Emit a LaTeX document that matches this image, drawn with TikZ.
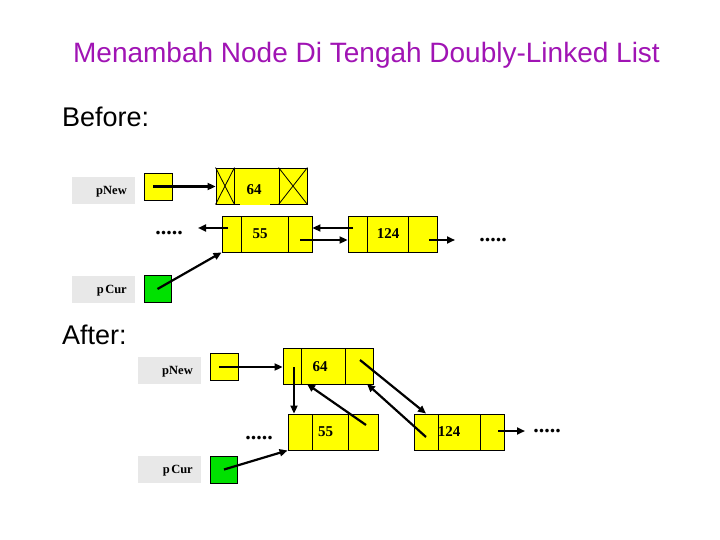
\documentclass[tikz,border=0pt]{standalone}
\usepackage{fontspec}
\setmainfont{Liberation Serif}
\newfontfamily\sansf{Liberation Sans}
\usetikzlibrary{arrows.meta,calc}
\definecolor{cellyellow}{RGB}{255,255,0}
\definecolor{labelgrey}{RGB}{232,232,232}
\definecolor{curgreen}{RGB}{0,225,0}
\definecolor{titlepurple}{RGB}{160,20,180}
\begin{document}
\begin{tikzpicture}[x=1pt,y=-1pt,
  cell/.style={draw=black, fill=cellyellow, line width=0.9pt, inner sep=0pt, minimum height=36pt},
  ptrbox/.style={draw=black, fill=cellyellow, line width=0.9pt, inner sep=0pt, minimum width=28pt, minimum height=27pt},
  curbox/.style={draw=black, fill=curgreen, line width=0.9pt, inner sep=0pt, minimum width=27pt, minimum height=27pt},
  lblbox/.style={fill=labelgrey, inner sep=0pt, minimum width=63pt, minimum height=27pt},
  lbltext/.style={font=\fontsize{12.5}{14}\selectfont\bfseries, inner sep=0pt, anchor=base east},
  valtext/.style={font=\fontsize{15}{17}\selectfont\bfseries, inner sep=0pt},
  dotstext/.style={font=\fontsize{22}{24}\selectfont\bfseries, inner sep=0pt, anchor=base},
  ptr/.style={line width=2.2pt, -{Triangle[length=8pt,width=7pt]}},
  crossline/.style={line width=0.8pt}]
\useasboundingbox (0,0) rectangle (720,540);

% Title and headings
\node[font=\sansf\fontsize{28}{30}\selectfont, text=titlepurple, inner sep=0pt, anchor=base] (title) at (366.5,63) {Menambah Node Di Tengah Doubly-Linked List};
\node[font=\sansf\fontsize{27}{30}\selectfont, inner sep=0pt, anchor=base west] (before) at (62,127) {Before:};
\node[font=\sansf\fontsize{27}{30}\selectfont, inner sep=0pt, anchor=base west] (after) at (62,344) {After:};

% ---------------- Before ----------------
\node[lblbox] (bpnewlbl) at (103.5,190.5) {};
\node[lbltext] (bpnewtxt) at (127,194.5) {pNew};
\node[ptrbox] (bpnew) at (158,186.5) {};
\node[lblbox] (bpcurlbl) at (103.5,289) {};
\node[lbltext] (bpcurtxt) at (127,293) {p\hspace{1.5pt}Cur};
\node[curbox] (bpcur) at (157.5,289) {};

% node 64 (new)
\node[cell, minimum width=18pt] (b64l) at (225,186) {};
\node[cell, minimum width=45pt] (b64m) at (256.5,186) {};
\node[cell, minimum width=28pt] (b64r) at (293,186) {};
\draw[crossline] (b64l.north west) -- (b64l.south east) (b64l.north east) -- (b64l.south west);
\draw[crossline] (b64r.north west) -- (b64r.south east) (b64r.north east) -- (b64r.south west);
\fill[cellyellow] (240,203.2) rectangle (270,205.5);
\node[valtext] (b64v) at (254,190) {64};

% node 55
\node[cell, minimum width=19pt] (b55l) at (231.5,234) {};
\node[cell, minimum width=47pt] (b55m) at (264.5,234) {};
\node[cell, minimum width=24pt] (b55r) at (300,234) {};
\node[valtext] (b55v) at (260,234) {55};

% node 124
\node[cell, minimum width=19pt] (b124l) at (357.5,234) {};
\node[cell, minimum width=41pt] (b124m) at (387.5,234) {};
\node[cell, minimum width=29pt] (b124r) at (422.5,234) {};
\node[valtext] (b124v) at (388,234) {124};

\node[dotstext] (bdotl) at (169,235) {.....};
\node[dotstext] (bdotr) at (493,241.5) {.....};

\coordinate (bs1) at (228,228);
\coordinate (be1) at (198,228);
\coordinate (bs2) at (300,240);
\coordinate (bs3) at (353,228);
\coordinate (bs4) at (429,240);
\coordinate (be4) at (455,240);

\draw[ptr] ([xshift=-5pt]bpnew.center) -- (bpnew.center -| b64l.west);
\draw[ptr] (bs1) -- (be1);
\draw[ptr] (bs2) -- (bs2 -| b124l.west);
\draw[ptr] (bs3) -- (bs3 -| b55r.east);
\draw[ptr] (bs4) -- (be4);
\draw[ptr] (bpcur.center) -- (b55l.south west);

% ---------------- After ----------------
\node[lblbox] (apnewlbl) at (169.5,370.5) {};
\node[lbltext] (apnewtxt) at (193,374.5) {pNew};
\node[ptrbox] (apnew) at (224,367) {};
\node[lblbox] (apcurlbl) at (169.5,469.5) {};
\node[lbltext] (apcurtxt) at (193,473.5) {p\hspace{1.5pt}Cur};
\node[curbox] (apcur) at (224,469.5) {};

% node 64
\node[cell, minimum width=18pt] (a64l) at (292,366) {};
\node[cell, minimum width=44pt] (a64m) at (323,366) {};
\node[cell, minimum width=28pt] (a64r) at (359,366) {};
\node[valtext] (a64v) at (320,367) {64};

% node 55
\node[cell, minimum width=24pt] (a55l) at (300,432) {};
\node[cell, minimum width=36pt] (a55m) at (330,432) {};
\node[cell, minimum width=30pt] (a55r) at (363,432) {};
\node[valtext] (a55v) at (325.5,432) {55};

% node 124
\node[cell, minimum width=24pt] (a124l) at (426,432) {};
\node[cell, minimum width=42pt] (a124m) at (459,432) {};
\node[cell, minimum width=24pt] (a124r) at (492,432) {};
\node[valtext] (a124v) at (449,432) {124};

\node[dotstext] (adotl) at (259,439.5) {.....};
\node[dotstext] (adotr) at (547,432.5) {.....};

\coordinate (as1) at (294,367);
\coordinate (as2) at (366,425);
\coordinate (ae2) at (307,384);
\coordinate (as3) at (360,360);
\coordinate (as4) at (426,437);
\coordinate (ae4) at (367,384);
\coordinate (as5) at (498,431);
\coordinate (ae5) at (525,431);

\draw[ptr] ([xshift=-5pt]apnew.center) -- (apnew.center -| a64l.west);
\draw[ptr] (as1) -- (as1 |- a55l.north);
\draw[ptr] (as2) -- (ae2);
\draw[ptr] (as3) -- (a124l.north);
\draw[ptr] (as4) -- (ae4);
\draw[ptr] (as5) -- (ae5);
\draw[ptr] (apcur.center) -- (a55l.south west);
\end{tikzpicture}
\end{document}
